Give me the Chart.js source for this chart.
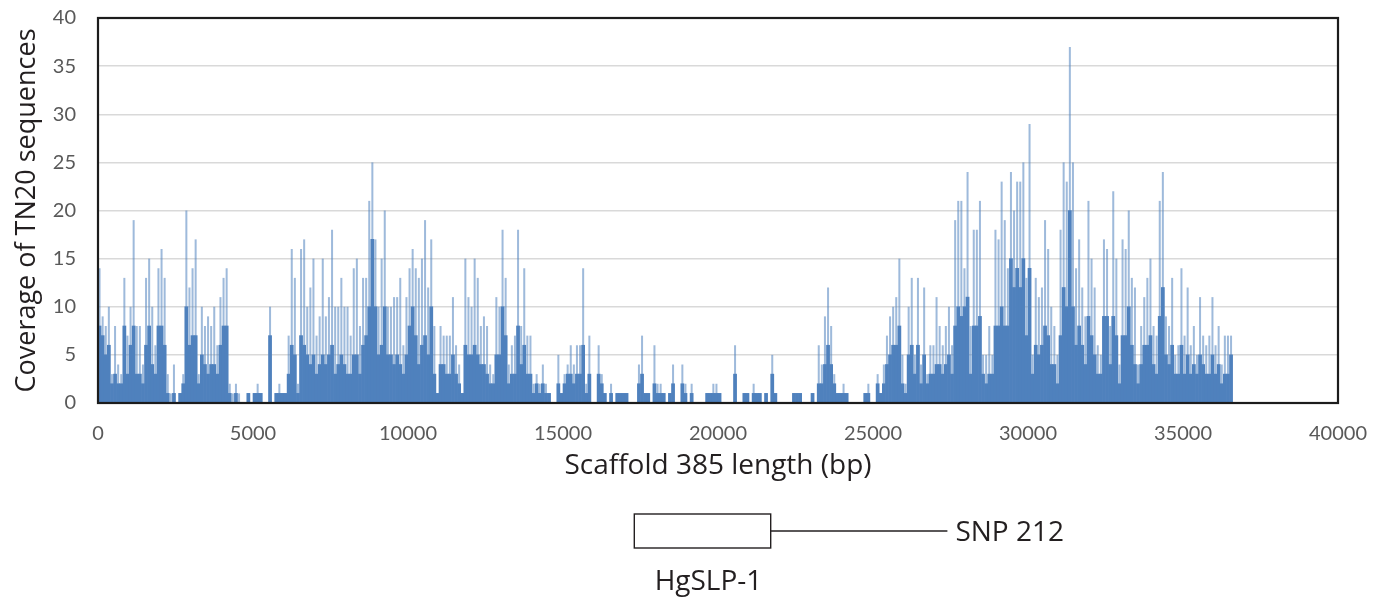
<!DOCTYPE html>
<html>
<head>
<meta charset="utf-8">
<title>Coverage of TN20 sequences on scaffold 385</title>
<script src="https://cdn.jsdelivr.net/npm/chart.js@4.4.1/dist/chart.umd.min.js"></script>
<style>
  html, body { margin: 0; padding: 0; background: #fff; }
  #wrap { position: relative; width: 1378px; height: 601px; }
</style>
</head>
<body>
<div id="wrap"><canvas id="chart"></canvas></div>
<script>
// coverage in 100 bp bins (bin i = i*100 .. i*100+100 bp)
const binSize = 100;

// tallest spike in each bin
const peakCoverage = [
  14, 9, 8, 10, 3, 8, 4, 3, 13, 7,
  10, 19, 8, 8, 4, 13, 15, 10, 6, 14,
  16, 13, 3, 1, 4, 0, 1, 3, 20, 12,
  14, 17, 3, 10, 8, 9, 8, 10, 6, 11,
  13, 14, 2, 1, 2, 1, 0, 0, 1, 0,
  1, 2, 1, 0, 0, 10, 0, 1, 2, 1,
  1, 7, 16, 13, 2, 16, 17, 10, 12, 15,
  7, 9, 15, 9, 11, 18, 10, 10, 13, 10,
  10, 7, 14, 15, 8, 13, 13, 21, 25, 17,
  10, 15, 20, 10, 10, 11, 11, 13, 6, 11,
  14, 16, 14, 13, 15, 19, 12, 17, 8, 1,
  8, 7, 7, 7, 11, 6, 4, 1, 15, 11,
  10, 15, 13, 8, 9, 8, 4, 3, 11, 10,
  18, 13, 4, 6, 7, 18, 8, 14, 7, 7,
  2, 3, 2, 4, 2, 1, 0, 0, 5, 1,
  3, 4, 6, 4, 6, 6, 14, 2, 7, 0,
  0, 6, 3, 1, 0, 2, 0, 1, 1, 1,
  1, 0, 0, 0, 4, 7, 1, 1, 0, 6,
  2, 2, 1, 0, 1, 4, 0, 0, 4, 2,
  0, 2, 0, 0, 0, 0, 1, 1, 2, 2,
  1, 0, 0, 0, 0, 6, 0, 0, 1, 1,
  0, 2, 1, 1, 0, 1, 0, 5, 1, 0,
  0, 0, 0, 0, 1, 1, 1, 0, 0, 0,
  1, 0, 6, 4, 9, 12, 8, 3, 1, 1,
  2, 1, 0, 0, 0, 0, 0, 1, 2, 0,
  0, 3, 1, 4, 7, 9, 10, 11, 15, 5,
  2, 10, 13, 5, 13, 4, 12, 3, 6, 6,
  11, 8, 6, 8, 10, 6, 19, 21, 21, 14,
  24, 8, 18, 18, 21, 5, 5, 8, 5, 18,
  17, 23, 19, 14, 24, 20, 23, 23, 25, 13,
  29, 5, 13, 11, 12, 19, 16, 10, 8, 5,
  18, 25, 23, 37, 25, 14, 17, 12, 9, 21,
  15, 12, 6, 5, 17, 16, 8, 22, 15, 4,
  17, 16, 20, 13, 12, 4, 8, 11, 13, 15,
  8, 7, 21, 24, 9, 8, 13, 5, 6, 14,
  7, 12, 6, 8, 5, 11, 7, 6, 7, 11,
  6, 8, 4, 7, 7, 7
];

// level of the dense (solid) fill in each bin
const baseCoverage = [
  8, 7, 5, 6, 2, 3, 2, 2, 8, 3,
  6, 8, 3, 3, 2, 6, 8, 4, 3, 8,
  8, 6, 1, 0, 1, 0, 1, 2, 10, 6,
  7, 7, 2, 5, 4, 3, 4, 4, 3, 6,
  8, 8, 1, 0, 1, 0, 0, 0, 1, 0,
  1, 1, 1, 0, 0, 7, 0, 1, 1, 1,
  1, 3, 6, 5, 1, 7, 6, 5, 4, 5,
  3, 4, 5, 4, 5, 6, 3, 4, 5, 4,
  3, 3, 5, 5, 3, 6, 7, 10, 17, 10,
  5, 6, 10, 5, 5, 4, 5, 4, 3, 5,
  8, 10, 7, 4, 6, 7, 5, 10, 3, 1,
  4, 4, 3, 3, 5, 3, 2, 1, 6, 5,
  5, 6, 5, 4, 4, 3, 2, 2, 5, 5,
  10, 7, 2, 3, 3, 8, 4, 6, 3, 3,
  1, 2, 1, 2, 1, 1, 0, 0, 2, 1,
  2, 3, 3, 2, 3, 3, 6, 1, 3, 0,
  0, 3, 2, 1, 0, 1, 0, 1, 1, 1,
  1, 0, 0, 0, 2, 3, 1, 1, 0, 2,
  1, 1, 1, 0, 1, 2, 0, 0, 2, 1,
  0, 1, 0, 0, 0, 0, 1, 1, 1, 1,
  1, 0, 0, 0, 0, 3, 0, 0, 1, 1,
  0, 1, 1, 1, 0, 1, 0, 3, 1, 0,
  0, 0, 0, 0, 1, 1, 1, 0, 0, 0,
  1, 0, 2, 2, 4, 6, 4, 2, 1, 1,
  1, 1, 0, 0, 0, 0, 0, 1, 1, 0,
  0, 2, 1, 2, 4, 5, 6, 6, 8, 2,
  1, 5, 6, 3, 6, 2, 5, 2, 3, 3,
  4, 4, 3, 4, 5, 3, 8, 10, 9, 10,
  11, 3, 8, 8, 9, 3, 2, 3, 3, 8,
  8, 10, 8, 8, 15, 12, 14, 12, 15, 7,
  14, 3, 6, 5, 6, 8, 7, 4, 4, 2,
  7, 12, 10, 20, 10, 6, 8, 6, 4, 9,
  7, 5, 3, 3, 9, 9, 4, 9, 7, 2,
  7, 7, 10, 6, 4, 2, 4, 6, 6, 7,
  4, 3, 9, 12, 5, 4, 6, 3, 3, 6,
  3, 5, 3, 4, 3, 5, 4, 3, 3, 5,
  3, 4, 2, 3, 3, 5
];

// gene model drawn under the axis (bp on the same scale)
const geneStart = 17300;
const geneEnd = 21700;
const snpLineEnd = 27400;
const geneLabel = "HgSLP-1";
const snpLabel = "SNP 212";

const toPoints = (values) => values.map((v, i) => ({x: (i + 0.5) * binSize, y: v}));

const frameAndGene = {
  id: "frameAndGene",
  afterDraw(chart) {
    const {ctx, chartArea: a} = chart;
    const x = chart.scales.x;
    ctx.save();
    // black frame round the plot
    ctx.strokeStyle = "#1c1c1c";
    ctx.lineWidth = 2.2;
    ctx.strokeRect(a.left, a.top, a.right - a.left, a.bottom - a.top);

    // gene box + line to the SNP
    const gx0 = x.getPixelForValue(geneStart);
    const gx1 = x.getPixelForValue(geneEnd);
    const sx = x.getPixelForValue(snpLineEnd);
    const boxTop = a.bottom + 111;
    const boxH = 34;
    const midY = boxTop + boxH / 2;
    ctx.strokeStyle = "#231f20";
    ctx.lineWidth = 1.4;
    ctx.strokeRect(gx0, boxTop, gx1 - gx0, boxH);
    ctx.beginPath();
    ctx.moveTo(gx1, midY);
    ctx.lineTo(sx, midY);
    ctx.stroke();

    ctx.fillStyle = "#231f20";
    ctx.font = "28px 'Open Sans'";
    ctx.textBaseline = "alphabetic";
    ctx.textAlign = "left";
    ctx.fillText(snpLabel, sx + 8, midY + 10);
    ctx.textAlign = "center";
    ctx.fillText(geneLabel, (gx0 + gx1) / 2 + 6, boxTop + 76);
    ctx.restore();
  }
};

new Chart(document.getElementById("chart"), {
  type: "bar",
  data: {
    datasets: [
      {
        label: "Coverage",
        data: toPoints(baseCoverage),
        backgroundColor: "#4f81bd",
        barPercentage: 1,
        categoryPercentage: 1,
        order: 0,
      },
      {
        label: "Coverage peaks",
        data: toPoints(peakCoverage),
        backgroundColor: "rgba(79, 129, 189, 0.55)",
        barPercentage: 0.65,
        categoryPercentage: 1,
        order: 1,
      },
    ],
  },
  options: {
    responsive: true,
    maintainAspectRatio: false,
    animation: false,
    grouped: false,
    layout: {
      padding: {top: 18, right: 40, bottom: 118, left: 0},
    },
    plugins: {
      legend: {display: false},
      tooltip: {enabled: false},
    },
    scales: {
      x: {
        type: "linear",
        min: 0,
        max: 40000,
        offset: false,
        grid: {display: false, drawTicks: false},
        border: {display: false},
        ticks: {
          stepSize: 5000,
          padding: 19,
          color: "#595959",
          font: {family: "Lato", size: 20},
          maxRotation: 0,
          callback: (value) => String(value),
        },
        title: {
          display: true,
          text: "Scaffold 385 length (bp)",
          color: "#231f20",
          font: {family: "Open Sans", size: 28},
          padding: {top: 0, bottom: 0},
        },
        afterFit(scale) {
          scale.height = 80;
          scale.paddingLeft = 0;
          scale.paddingRight = 0;
        },
      },
      y: {
        min: 0,
        max: 40,
        grid: {color: "#d9d9d9", lineWidth: 1.5, drawTicks: false},
        border: {display: false},
        ticks: {
          stepSize: 5,
          padding: 22,
          color: "#595959",
          font: {family: "Lato", size: 20},
        },
        title: {
          display: true,
          text: "Coverage of TN20 sequences",
          color: "#231f20",
          font: {family: "Open Sans", size: 27},
          padding: {top: 11, bottom: 0},
        },
        afterFit(scale) {
          scale.width = 98;
          scale.paddingTop = 0;
          scale.paddingBottom = 0;
        },
      },
    },
  },
  plugins: [frameAndGene],
});
</script>
</body>
</html>
